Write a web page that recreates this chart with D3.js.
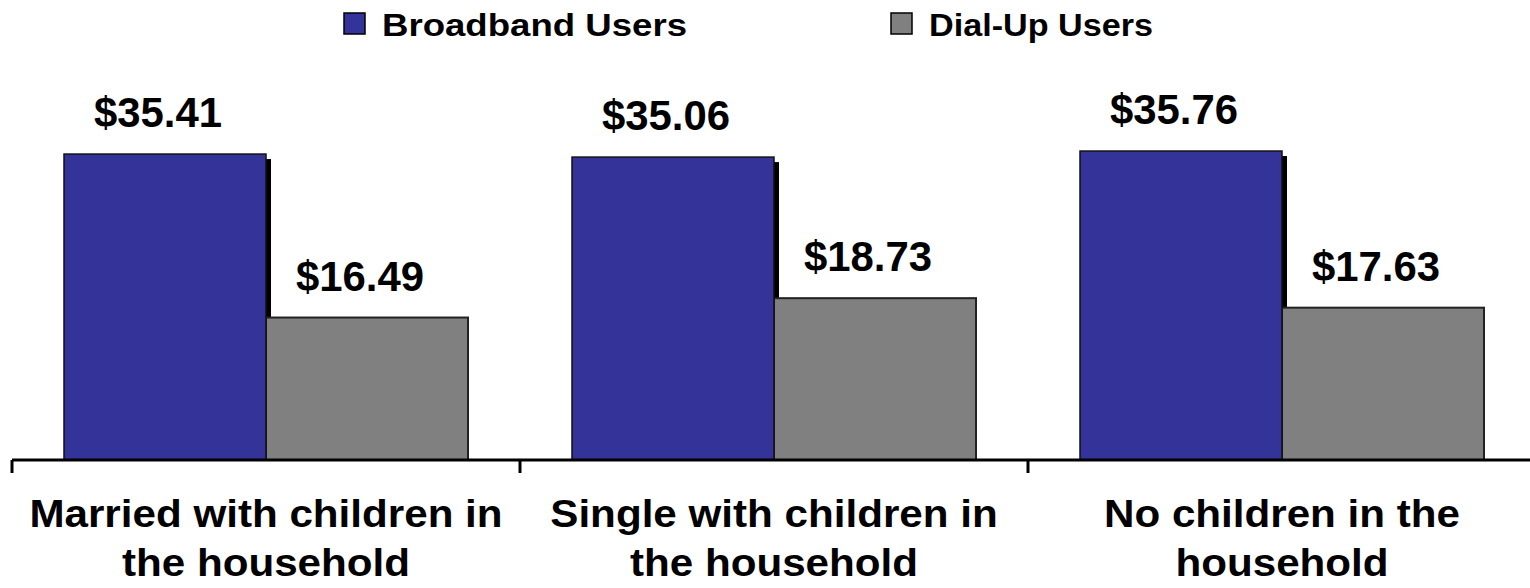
<!DOCTYPE html>
<html>
<head>
<meta charset="utf-8">
<script src="https://d3js.org/d3.v7.min.js"></script>
<style>
  html, body { margin: 0; padding: 0; background: #fff; }
  svg { display: block; }
  text { font-family: "Liberation Sans", Arial, sans-serif; font-weight: bold; fill: #000; }
</style>
</head>
<body>
<svg id="chart" width="1530" height="588"></svg>
<script>
const categories = [
  ["Married with children in", "the household"],
  ["Single with children in", "the household"],
  ["No children in the", "household"]
];
const seriesNames = ["Broadband Users", "Dial-Up Users"];
const broadband = [35.41, 35.06, 35.76];
const dialup = [16.49, 18.73, 17.63];
const valueLabels = [["$35.41", "$16.49"], ["$35.06", "$18.73"], ["$35.76", "$17.63"]];
const colors = ["#333399", "#808080"];

const svg = d3.select("#chart");
const catIds = categories.map((c, i) => i);

const x0 = d3.scaleBand().domain(catIds).range([12, 1536]).padding(0);
const x1 = d3.scaleBand().domain([0, 1]).range([52, x0.bandwidth() - 52]).padding(0);
const y = d3.scaleLinear().domain([0, 40]).range([460, 114.4]);

const data = catIds.map(i => [broadband[i], dialup[i]]);

const groups = svg.selectAll("g.grp").data(data).join("g")
  .attr("class", "grp")
  .attr("transform", (d, i) => `translate(${x0(i)},0)`);

// shadow for broadband bars
groups.append("rect")
  .attr("x", x1(0) + 5)
  .attr("y", d => y(d[0]) + 5)
  .attr("width", x1.bandwidth())
  .attr("height", d => y(0) - y(d[0]) - 5)
  .attr("fill", "#000");

// dial-up bars
groups.append("rect")
  .attr("x", x1(1))
  .attr("y", d => y(d[1]))
  .attr("width", x1.bandwidth())
  .attr("height", d => y(0) - y(d[1]))
  .attr("fill", colors[1])
  .attr("stroke", "#222")
  .attr("stroke-width", 2);

// broadband bars
groups.append("rect")
  .attr("x", x1(0))
  .attr("y", d => y(d[0]))
  .attr("width", x1.bandwidth())
  .attr("height", d => y(0) - y(d[0]))
  .attr("fill", colors[0])
  .attr("stroke", "#111")
  .attr("stroke-width", 1.5);

// value labels
[0, 1].forEach(s => {
  groups.append("text")
    .attr("x", x1(s) + x1.bandwidth() / 2 - 7)
    .attr("y", (d, i) => y(d[s]) - 27)
    .attr("text-anchor", "middle")
    .attr("font-size", 43)
    .attr("textLength", 128)
    .attr("lengthAdjust", "spacingAndGlyphs")
    .text((d, i) => valueLabels[i][s]);
});

// axis
const ax = svg.append("g").attr("transform", `translate(0,${y(0)})`);
ax.append("line").attr("x1", 12).attr("x2", 1530).attr("y1", 0).attr("y2", 0)
  .attr("stroke", "#000").attr("stroke-width", 3);
x0.domain().forEach(i => {
  ax.append("line").attr("x1", x0(i)).attr("x2", x0(i)).attr("y1", 0).attr("y2", 13)
    .attr("stroke", "#000").attr("stroke-width", 3);
});

// category labels
categories.forEach((lines, i) => {
  const cx = x0(i) + x0.bandwidth() / 2;
  lines.forEach((ln, j) => {
    svg.append("text")
      .attr("x", cx)
      .attr("y", 527 + j * 49)
      .attr("text-anchor", "middle")
      .attr("font-size", 38)
      .attr("transform", `translate(${cx},0) scale(1.11,1) translate(${-cx},0)`)
      .text(ln);
  });
});

// legend
const legendX = [344, 891];
const legendLen = [305, 224];
seriesNames.forEach((name, i) => {
  const g = svg.append("g").attr("transform", `translate(${legendX[i]},0)`);
  g.append("rect").attr("x", 0).attr("y", 13).attr("width", 21).attr("height", 21)
    .attr("fill", colors[i]).attr("stroke", "#000").attr("stroke-width", 1.5);
  g.append("text").attr("x", 38).attr("y", 36)
    .attr("font-size", 32)
    .attr("textLength", legendLen[i])
    .attr("lengthAdjust", "spacingAndGlyphs")
    .text(name);
});
</script>
</body>
</html>
